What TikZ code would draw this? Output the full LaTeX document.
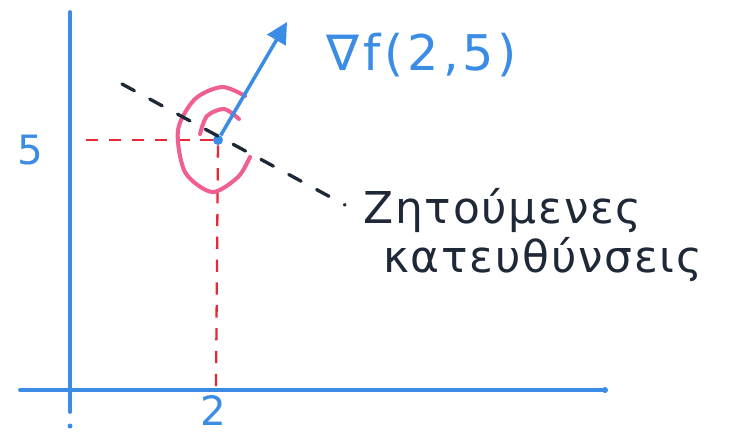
\documentclass[tikz,border=0pt]{standalone}
\usepackage{fontspec}
\setmainfont{DejaVu Sans}
\newfontfamily\widehand[LetterSpace=4]{DejaVu Sans}
\newfontfamily\widegrad[LetterSpace=8]{DejaVu Sans}
\usetikzlibrary{arrows.meta}
\definecolor{axisblue}{RGB}{58,140,228}
\definecolor{guidered}{RGB}{230,40,55}
\definecolor{levelpink}{RGB}{240,95,145}
\definecolor{inkdark}{RGB}{30,40,55}
\tikzset{
  axisline/.style={draw=axisblue,line width=2.2pt,line cap=round},
  guide/.style={draw=guidered,line width=1.3pt,dash pattern=on 7pt off 6pt},
  levelcurve/.style={draw=levelpink,line width=2.3pt,line cap=round},
  tangent/.style={draw=inkdark,line width=1.9pt,dash pattern=on 8pt off 10pt,line cap=round},
  gradarrow/.style={draw=axisblue,line width=2pt,-{Triangle[length=4.2mm,width=4.2mm]}},
  ptdot/.style={circle,fill=axisblue,inner sep=0pt,minimum size=0.2cm},
  ticklabel/.style={text=axisblue,inner sep=0pt,font=\fontsize{23}{27}\selectfont},
  bluelabel/.style={text=axisblue,inner sep=0pt,font=\widegrad\fontsize{28}{32}\selectfont},
  handtext/.style={text=inkdark,align=left,inner sep=0pt,font=\widehand\fontsize{25}{28}\selectfont}
}
\begin{document}
\begin{tikzpicture}[x=0.02cm,y=-0.02cm]
  \useasboundingbox (0,0) rectangle (736,434);
  % axes
  \coordinate (ytop) at (70,12);
  \coordinate (ybot) at (70,412);
  \coordinate (xleft) at (20,390);
  \coordinate (xright) at (605,390);
  \draw[axisline] (ytop) -- (ybot);
  \draw[axisline] (xleft) -- (xright);
  \fill[axisblue] (xright) circle (3);
  \fill[axisblue] (70,426) circle (2.5);
  % point (2,5) and guides
  \node[ptdot] (p) at (218,140) {};
  \coordinate (px) at (80,140);
  \coordinate (py) at (216,386);
  \draw[guide] (p) -- (px);
  \draw[guide] (p) -- (py);
  \node[ticklabel] (five) at (30,150) {5};
  \node[ticklabel] (two) at (213,410) {2};
  % level curve
  \draw[levelcurve] plot[smooth] coordinates {(245,96) (222,87) (195,99) (178,130) (185,172) (212,192) (238,177) (250,157)};
  \draw[levelcurve] plot[smooth] coordinates {(200,134) (207,116) (224,109) (239,119)};
  % tangent directions
  \coordinate (tl) at (122,84);
  \coordinate (tr) at (345,205);
  \draw[tangent] (tl) -- (tr);
  % gradient
  \coordinate (tip) at (287,22);
  \draw[gradarrow] (p) -- (tip);
  \node[bluelabel] (gradlbl) at (422,55) {∇f(2,5)};
  \node[handtext,anchor=north west] (dirs) at (363,188) {Ζητούμενες\\\hspace*{0.4cm}κατευθύνσεις};
\end{tikzpicture}
\end{document}
